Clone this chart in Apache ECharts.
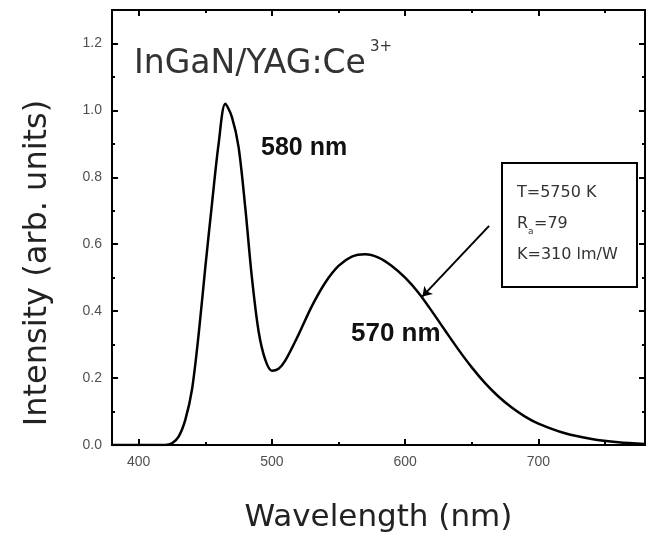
<!DOCTYPE html>
<html>
<head>
<meta charset="utf-8">
<script src="https://cdn.jsdelivr.net/npm/echarts@6/dist/echarts.min.js"></script>
<style>
html,body{margin:0;padding:0;background:#fff}
#main{width:648px;height:538px}
</style>
</head>
<body>
<div id="main"></div>
<script>
// spectrum
var wavelength = [380, 420, 425, 430, 435, 440, 445, 450, 455, 460, 465, 470, 475, 480, 485, 490, 495, 500, 505, 510,
    520, 530, 540, 550, 560, 570, 580, 590, 600, 610, 620, 630, 640, 650, 660, 670, 680, 690, 700, 720, 740, 760, 780];
var intensity = [0, 0, 0.005, 0.025, 0.075, 0.165, 0.33, 0.53, 0.72, 0.90, 1.02, 0.98, 0.89, 0.71, 0.50, 0.34, 0.255, 0.222, 0.228, 0.252,
    0.33, 0.415, 0.485, 0.535, 0.563, 0.57, 0.56, 0.535, 0.50, 0.455, 0.40, 0.342, 0.285, 0.232, 0.185, 0.145, 0.112, 0.085, 0.064, 0.035, 0.018, 0.008, 0.003];
var xTicks = [400, 500, 600, 700];
var yTicks = ['0.0', '0.2', '0.4', '0.6', '0.8', '1.0', '1.2'];
// arrow from the legend box to the curve
var arrowFrom = [663, 0.655];
var arrowTo = [613, 0.444];

var points = [];
for (var i = 0; i < wavelength.length; i++) {
    points.push([wavelength[i], intensity[i]]);
}

var black = '#000';
var labelFont = {color: '#505050', fontSize: 14, fontFamily: 'Liberation Sans'};

function xAxisOf(pos, split, len, withLabels) {
    return {
        type: 'value', position: pos, min: 380, max: 780, splitNumber: split,
        axisLine: {onZero: false, lineStyle: {color: black, width: 2}},
        axisTick: {inside: true, length: len, lineStyle: {color: black, width: 2}},
        splitLine: {show: false},
        axisLabel: Object.assign({
            show: withLabels, margin: 10,
            formatter: function (v) { return xTicks.indexOf(v) >= 0 ? String(v) : ''; }
        }, labelFont)
    };
}
function yAxisOf(pos, step, len, withLabels) {
    return {
        type: 'value', position: pos, min: 0, max: 1.3, interval: step,
        axisLine: {onZero: false, lineStyle: {color: black, width: 2}},
        axisTick: {inside: true, length: len, lineStyle: {color: black, width: 2}},
        splitLine: {show: false},
        axisLabel: Object.assign({
            show: withLabels, margin: 10,
            formatter: function (v) {
                var s = v.toFixed(1);
                return yTicks.indexOf(s) >= 0 ? s : '';
            }
        }, labelFont)
    };
}

var xMain = xAxisOf('bottom', 4, 6, true);
xMain.name = 'Wavelength (nm)';
xMain.nameLocation = 'middle';
xMain.nameGap = 57;
xMain.nameTextStyle = {fontSize: 31, fontFamily: 'DejaVu Sans', color: '#222'};

var myChart = echarts.init(document.getElementById('main'));
var option = {
    backgroundColor: '#fff',
    animation: false,
    grid: {left: 112, right: 2, top: 10, bottom: 79},
    xAxis: [xMain, xAxisOf('bottom', 8, 3, false), xAxisOf('top', 4, 6, false), xAxisOf('top', 8, 3, false)],
    yAxis: [yAxisOf('left', 0.2, 6, true), yAxisOf('left', 0.1, 3, false), yAxisOf('right', 0.2, 6, false), yAxisOf('right', 0.1, 3, false)],
    series: [{
        type: 'line',
        xAxisIndex: 0,
        yAxisIndex: 0,
        data: points,
        showSymbol: false,
        smooth: 0.3,
        lineStyle: {color: black, width: 2.5},
        markLine: {
            silent: true,
            symbol: ['none', 'arrow'],
            symbolSize: 9,
            label: {show: false},
            lineStyle: {color: black, width: 2, type: 'solid'},
            data: [[{coord: arrowFrom}, {coord: arrowTo}]]
        }
    }],
    graphic: [
        {type: 'text', x: 38, y: 263, rotation: Math.PI / 2,
            style: {text: 'Intensity (arb. units)', fontSize: 32, fontFamily: 'DejaVu Sans', fill: '#222', align: 'center', verticalAlign: 'middle'}},
        {type: 'text', x: 134, y: 64,
            style: {text: 'InGaN/YAG:Ce', fontSize: 33, fontFamily: 'DejaVu Sans', fill: '#333', align: 'left', verticalAlign: 'middle'}},
        {type: 'text', x: 370, y: 47,
            style: {text: '3+', fontSize: 15, fontFamily: 'DejaVu Sans', fill: '#333', align: 'left', verticalAlign: 'middle'}},
        {type: 'text', x: 261, y: 148,
            style: {text: '580 nm', fontSize: 25, fontWeight: 'bold', fontFamily: 'Liberation Sans', fill: '#111', align: 'left', verticalAlign: 'middle'}},
        {type: 'text', x: 351, y: 334,
            style: {text: '570 nm', fontSize: 26, fontWeight: 'bold', fontFamily: 'Liberation Sans', fill: '#111', align: 'left', verticalAlign: 'middle'}},
        {type: 'rect', shape: {x: 502, y: 163, width: 135, height: 124},
            style: {fill: '#fff', stroke: black, lineWidth: 2}},
        {type: 'text', x: 517, y: 193,
            style: {text: 'T=5750 K', fontSize: 16, fontFamily: 'DejaVu Sans', fill: '#333', align: 'left', verticalAlign: 'middle'}},
        {type: 'text', x: 517, y: 224,
            style: {text: 'R', fontSize: 16, fontFamily: 'DejaVu Sans', fill: '#333', align: 'left', verticalAlign: 'middle'}},
        {type: 'text', x: 528, y: 232,
            style: {text: 'a', fontSize: 9, fontFamily: 'DejaVu Sans', fill: '#333', align: 'left', verticalAlign: 'middle'}},
        {type: 'text', x: 534, y: 224,
            style: {text: '=79', fontSize: 16, fontFamily: 'DejaVu Sans', fill: '#333', align: 'left', verticalAlign: 'middle'}},
        {type: 'text', x: 517, y: 255,
            style: {text: 'K=310 lm/W', fontSize: 16, fontFamily: 'DejaVu Sans', fill: '#333', align: 'left', verticalAlign: 'middle'}}
    ]
};
myChart.setOption(option);
</script>
</body>
</html>
